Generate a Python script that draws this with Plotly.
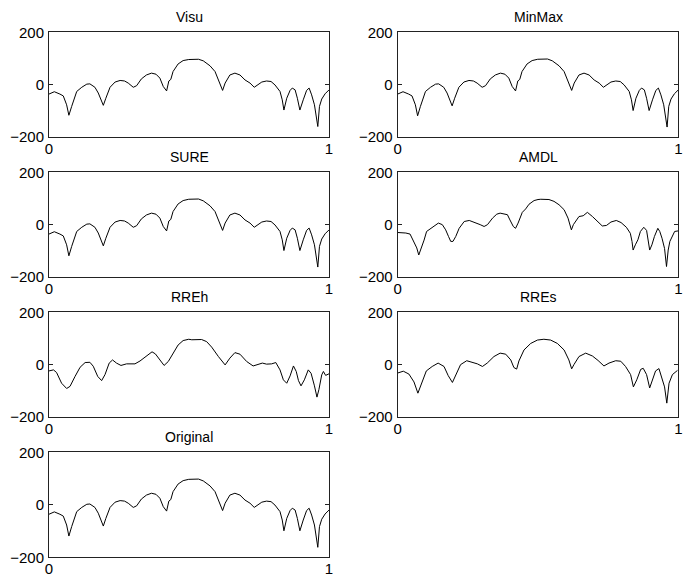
import plotly.graph_objects as go

# ---------------- data ----------------
x_orig = [0.0, 0.019, 0.039, 0.051, 0.063, 0.071, 0.081, 0.099, 0.117, 0.135,
          0.146, 0.164, 0.176, 0.186, 0.194, 0.203, 0.218, 0.236, 0.254, 0.27,
          0.283, 0.301, 0.313, 0.33, 0.348, 0.366, 0.382, 0.396, 0.408, 0.42,
          0.428, 0.435, 0.443, 0.461, 0.479, 0.499, 0.51, 0.534, 0.551, 0.575,
          0.593, 0.605, 0.614, 0.62, 0.629, 0.646, 0.664, 0.682, 0.7, 0.718,
          0.733, 0.742, 0.76, 0.777, 0.793, 0.807, 0.825, 0.833, 0.839, 0.849,
          0.861, 0.869, 0.879, 0.887, 0.896, 0.908, 0.92, 0.929, 0.938, 0.948,
          0.956, 0.96, 0.966, 0.974, 0.986, 1.0]
y_orig = [-36, -27, -36, -43, -77, -119, -83, -26, -10, 2,
          3, -10, -32, -60, -81, -52, -10, 10, 16, 14,
          6, -10, -4, 22, 37, 44, 40, 25, -7, -24,
          14, 20, 50, 79, 92, 97, 98, 98, 91, 72,
          50, 21, -7, -22, 6, 37, 44, 37, 18, 6,
          -10, -4, 10, 14, 12, -1, -26, -58, -99, -52,
          -22, -13, -20, -52, -99, -58, -22, -13, -39, -77,
          -128, -162, -83, -55, -35, -20]

y_visu = [-36, -27, -36, -43, -77, -117, -83, -26, -10, 2,
          3, -10, -32, -60, -79, -52, -10, 10, 16, 14,
          6, -10, -4, 22, 37, 44, 40, 25, -7, -24,
          14, 20, 50, 79, 92, 96, 97, 97, 91, 72,
          50, 21, -7, -22, 6, 37, 44, 37, 18, 6,
          -10, -4, 10, 14, 12, -1, -26, -58, -97, -52,
          -22, -13, -20, -52, -97, -58, -22, -13, -39, -77,
          -128, -160, -83, -55, -35, -20]

y_minmax = [-36, -27, -36, -43, -77, -119, -83, -26, -10, 2,
            3, -10, -32, -60, -81, -52, -10, 10, 16, 14,
            6, -10, -4, 22, 37, 44, 40, 25, -7, -24,
            14, 20, 50, 79, 92, 97, 98, 98, 91, 72,
            50, 21, -7, -22, 6, 37, 44, 37, 18, 6,
            -10, -4, 10, 14, 12, -1, -26, -58, -99, -52,
            -22, -13, -20, -52, -99, -58, -22, -13, -39, -77,
            -128, -162, -83, -55, -35, -20]

y_sure = [-36, -27, -36, -43, -77, -119, -83, -26, -10, 2,
          3, -10, -32, -60, -81, -52, -10, 10, 16, 14,
          6, -10, -4, 22, 37, 44, 40, 25, -7, -24,
          14, 20, 50, 79, 92, 97, 98, 98, 91, 72,
          50, 21, -7, -22, 6, 37, 44, 37, 18, 6,
          -10, -4, 10, 14, 12, -1, -26, -58, -99, -52,
          -22, -13, -20, -52, -99, -58, -22, -13, -39, -77,
          -128, -162, -83, -55, -35, -20]

x_amdl = [0.0, 0.029, 0.044, 0.058, 0.068, 0.075, 0.082, 0.094, 0.103, 0.118,
          0.132, 0.145, 0.159, 0.171, 0.181, 0.189, 0.197, 0.207, 0.219, 0.237,
          0.255, 0.272, 0.294, 0.308, 0.32, 0.338, 0.353, 0.365, 0.379, 0.391,
          0.4, 0.412, 0.42, 0.429, 0.444, 0.456, 0.468, 0.486, 0.5, 0.51,
          0.539, 0.557, 0.575, 0.593, 0.607, 0.619, 0.626, 0.634, 0.646, 0.661,
          0.676, 0.694, 0.711, 0.729, 0.744, 0.76, 0.779, 0.796, 0.815, 0.829,
          0.835, 0.839, 0.847, 0.856, 0.865, 0.877, 0.887, 0.892, 0.898, 0.906,
          0.915, 0.927, 0.934, 0.942, 0.951, 0.958, 0.964, 0.97, 0.978, 0.987,
          0.999]
y_amdl = [-30, -32, -36, -64, -89, -116, -97, -59, -26, -14,
          -3, 6, 0, -20, -45, -64, -64, -45, -14, 12,
          16, 10, 0, -7, 0, 25, 40, 44, 40, 38,
          18, -7, -14, 6, 47, 60, 78, 92, 96, 97,
          96, 89, 76, 57, 25, -20, 0, 12, 31, 34,
          47, 31, 12, -5, -3, 10, 16, 8, -10, -33,
          -64, -97, -77, -58, -26, -10, -22, -58, -97, -77,
          -45, -14, -26, -52, -91, -160, -97, -64, -45, -26,
          -24]

x_rreh = [0.0, 0.016, 0.027, 0.045, 0.063, 0.075, 0.093, 0.111, 0.129, 0.146,
          0.158, 0.174, 0.188, 0.2, 0.215, 0.227, 0.241, 0.257, 0.277, 0.307,
          0.325, 0.348, 0.368, 0.38, 0.396, 0.411, 0.426, 0.443, 0.461, 0.479,
          0.499, 0.51, 0.545, 0.563, 0.581, 0.605, 0.629, 0.646, 0.664, 0.682,
          0.706, 0.729, 0.747, 0.762, 0.777, 0.795, 0.81, 0.825, 0.837, 0.849,
          0.861, 0.873, 0.883, 0.891, 0.9, 0.912, 0.926, 0.936, 0.948, 0.957,
          0.964, 0.974, 0.98, 0.988, 1.0]
y_rreh = [-24, -20, -30, -71, -91, -83, -45, -10, 8, 9,
          -6, -45, -61, -38, 6, 18, 6, -3, 3, 3,
          14, 33, 49, 41, 16, -3, 12, 44, 75, 92,
          97, 95, 96, 88, 67, 31, -1, 25, 46, 40,
          12, -5, 2, 6, 2, 3, 8, -20, -58, -71,
          -43, -5, -26, -61, -81, -58, -20, -33, -81, -124,
          -95, -39, -26, -41, -35]

x_rres = [0.0, 0.020, 0.040, 0.058, 0.072, 0.084, 0.102, 0.123, 0.144, 0.165,
          0.180, 0.195, 0.207, 0.224, 0.246, 0.266, 0.284, 0.302, 0.319, 0.343,
          0.365, 0.385, 0.403, 0.414, 0.424, 0.432, 0.450, 0.474, 0.498, 0.521,
          0.545, 0.569, 0.593, 0.610, 0.620, 0.628, 0.646, 0.670, 0.694, 0.714,
          0.735, 0.753, 0.777, 0.795, 0.812, 0.830, 0.840, 0.852, 0.866, 0.875,
          0.887, 0.898, 0.907, 0.919, 0.931, 0.943, 0.951, 0.959, 0.967, 0.979,
          0.997]
y_rres = [-32, -25, -36, -66, -109, -77, -24, -7, 6, -7,
          -42, -68, -38, 0, 15, 10, 3, -7, 6, 31,
          44, 40, 18, -11, -17, 14, 56, 81, 94, 97,
          94, 81, 56, 18, -16, 0, 31, 44, 33, 16,
          -5, 6, 15, 13, -7, -38, -85, -58, -18, -14,
          -38, -89, -61, -24, -15, -52, -85, -147, -71, -38,
          -22]

titles = ["Visu", "MinMax", "SURE", "AMDL", "RREh", "RREs", "Original"]
x_tick_vals = [0, 1]
x_tick_text = ["0", "1"]
y_tick_vals = [-200, 0, 200]
y_tick_text = ["\u2212200", "0", "200"]

series = [
    (x_orig, y_visu), (x_orig, y_minmax),
    (x_orig, y_sure), (x_amdl, y_amdl),
    (x_rreh, y_rreh), (x_rres, y_rres),
    (x_orig, y_orig),
]

# ---------------- layout ----------------
# the page body has an 8px margin, so the figure is drawn 8px in from the corner
OFF = 8
W, H = 692 - OFF, 577 - OFF
col_px = [(49 - OFF, 329 - OFF), (397.7 - OFF, 678.3 - OFF)]
row_px = [(32.3 - OFF, 137 - OFF), (172.3 - OFF, 277 - OFF),
          (312.3 - OFF, 417 - OFF), (452.3 - OFF, 557.3 - OFF)]

FONT = "Liberation Sans, Arial, Helvetica, sans-serif"
fig = go.Figure()
annotations = []
layout_axes = {}

for i, (title, (xs, ys)) in enumerate(zip(titles, series)):
    r, c = divmod(i, 2)
    n = i + 1
    xa = "xaxis" if n == 1 else f"xaxis{n}"
    ya = "yaxis" if n == 1 else f"yaxis{n}"
    xref = "x" if n == 1 else f"x{n}"
    yref = "y" if n == 1 else f"y{n}"
    x0, x1 = col_px[c]
    yt, yb = row_px[r]
    xdom = [x0 / W, x1 / W]
    ydom = [1 - yb / H, 1 - yt / H]

    fig.add_trace(go.Scatter(x=xs, y=ys, mode="lines",
                             line=dict(color="black", width=1),
                             xaxis=xref, yaxis=yref, showlegend=False,
                             hoverinfo="skip"))
    common = dict(showgrid=False, zeroline=False, showline=True,
                  linecolor="#222222", linewidth=1, mirror="ticks",
                  ticks="inside", ticklen=4, tickcolor="#222222",
                  tickfont=dict(family=FONT, size=15, color="black"),
                  automargin=False, fixedrange=True)
    layout_axes[xa] = dict(domain=xdom, range=[0, 1], anchor=yref,
                           tickmode="array", tickvals=x_tick_vals,
                           ticktext=x_tick_text, ticklabelstandoff=-2,
                           **common)
    layout_axes[ya] = dict(domain=ydom, range=[-200, 200], anchor=xref,
                           tickmode="array", tickvals=y_tick_vals,
                           ticktext=y_tick_text, ticklabelstandoff=1,
                           **common)
    annotations.append(dict(text=title, x=(xdom[0] + xdom[1]) / 2, y=ydom[1],
                            xref="paper", yref="paper", xanchor="center",
                            yanchor="bottom", yshift=5, showarrow=False,
                            font=dict(family=FONT, size=14, color="black")))

fig.update_layout(width=W, height=H, margin=dict(l=0, r=0, t=0, b=0),
                  paper_bgcolor="white", plot_bgcolor="white",
                  annotations=annotations, **layout_axes)

fig.write_html("out.html")
